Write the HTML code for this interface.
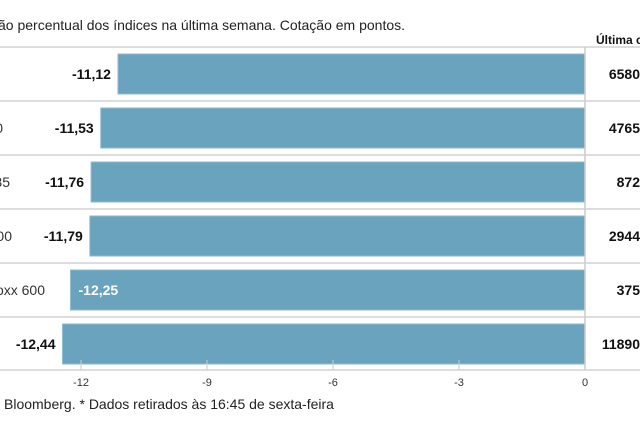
<!DOCTYPE html>
<html><head><meta charset="utf-8"><style>
body{margin:0;background:#fff;width:640px;height:426px;overflow:hidden;font-family:"Liberation Sans",sans-serif}
</style></head><body>
<svg width="640" height="426" font-family="Liberation Sans, sans-serif">
<text x="-2" y="30" font-size="14" fill="#222">ão percentual dos índices na última semana. Cotação em pontos.</text>
<text x="596" y="44" font-size="12" font-weight="bold" fill="#111">Última cotação</text>
<g id="rows"></g>
<g id="axis"></g>
<text x="4" y="409" font-size="14" fill="#222">Bloomberg.  * Dados retirados às 16:45 de sexta-feira</text>
</svg>
<script>
const categories=["DAX","CAC 40","IBEX 35","FTSE 100","Stoxx 600","PSI 20"];
const values=[-11.12,-11.53,-11.76,-11.79,-12.25,-12.44];
const lastQuote=["6580","4765","872","2944","375","11890"];
const ticks=[-12,-9,-6,-3,0];
const labelEnds=[-20,3,10,12,45,-20];
const x0=585,ppu=42,top0=47,pitch=54;
const xs=v=>x0+v*ppu;
const NS="http://www.w3.org/2000/svg";
const rows=document.getElementById('rows'),axis=document.getElementById('axis');
function mk(tag,attrs,parent){const e=document.createElementNS(NS,tag);for(const k in attrs)e.setAttribute(k,attrs[k]);parent.appendChild(e);return e;}
values.forEach((v,i)=>{
  const y=top0+i*pitch;
  const sep=mk('line',{x1:0,x2:640,y1:y,y2:y,stroke:'#ddd','stroke-width':2},rows);
  
  
  const b=mk('rect',{x:xs(v),y:y+7,width:x0-xs(v),height:40,fill:'#6aa3bd',stroke:'#8fbad0','stroke-width':1},rows);
  
  
  const inside=i===4;
  const t=mk('text',{x:inside?xs(v)+8:xs(v)-7,y:y+32,'font-size':14,'font-weight':'bold','text-anchor':inside?'start':'end',fill:inside?'#fff':'#111'},rows);
  t.textContent=v.toFixed(2).replace('.',',');
  
  
  const n=mk('text',{x:labelEnds[i],y:y+32,'font-size':14,'text-anchor':'end',fill:'#333'},rows);
  n.textContent=categories[i];
  
  
  const q=mk('text',{x:640,y:y+32,'font-size':14,'font-weight':'bold','text-anchor':'end',fill:'#111'},rows);
  q.textContent=lastQuote[i];
  
  
});
const ybot=top0+values.length*pitch-1;
const zl=mk('line',{x1:x0,x2:x0,y1:top0,y2:ybot,stroke:'#ccc','stroke-width':1.5},axis);


const al=mk('line',{x1:0,x2:640,y1:ybot,y2:ybot,stroke:'#ddd','stroke-width':2},axis);


ticks.forEach(t=>{
  const tk=mk('line',{x1:xs(t),x2:xs(t),y1:ybot-10,y2:ybot,stroke:'#ccc'},axis);
  
  
  const tl=mk('text',{x:xs(t),y:ybot+16,'font-size':11,'text-anchor':'middle',fill:'#333'},axis);
  tl.textContent=t;
  
  
});
</script>
</body></html>
